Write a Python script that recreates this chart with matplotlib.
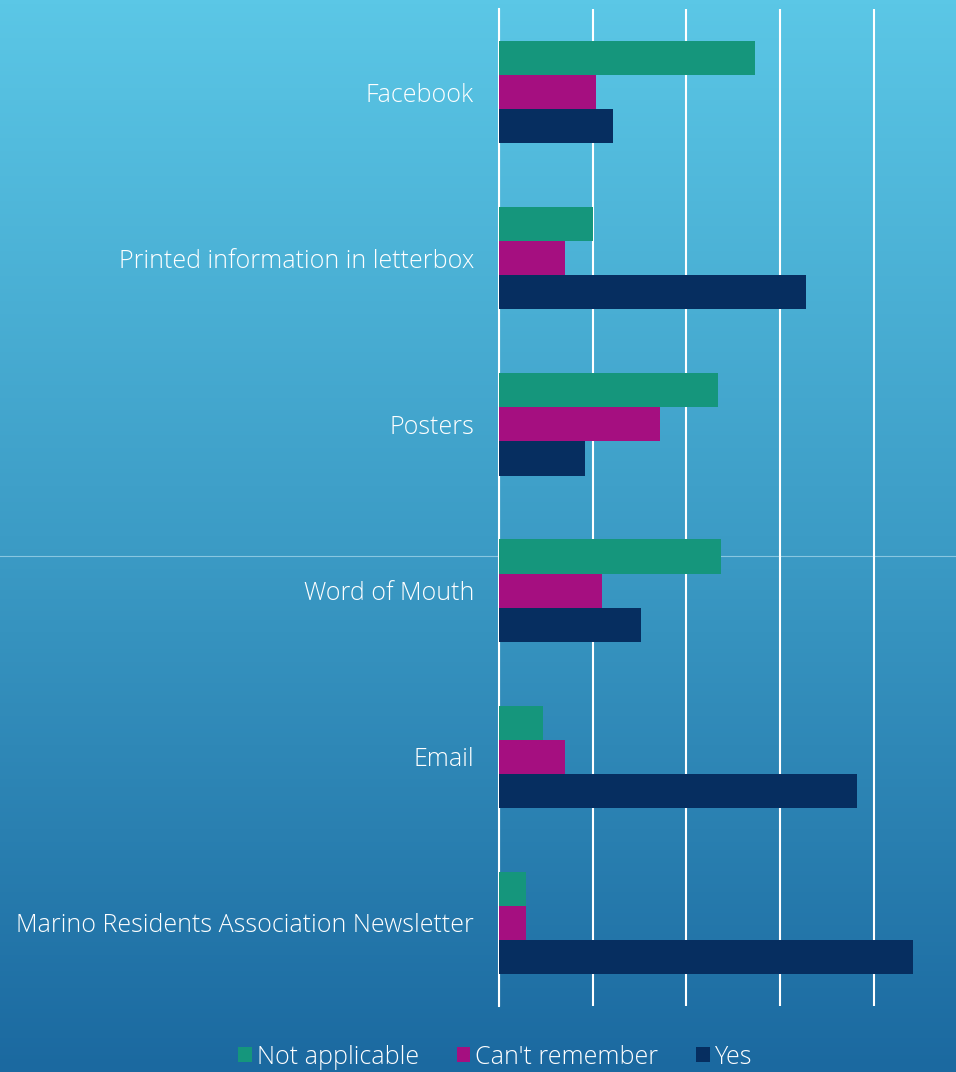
import numpy as np
import matplotlib
matplotlib.use("Agg")
import matplotlib.pyplot as plt
from matplotlib.colors import LinearSegmentedColormap
from matplotlib.lines import Line2D

# Data (one gridline step = 10)
categories = ["Facebook", "Printed information in letterbox", "Posters",
              "Word of Mouth", "Email", "Marino Residents Association Newsletter"]
not_applicable = [27.3, 10.0, 23.4, 23.7, 4.7, 2.9]
cant_remember = [10.4, 7.0, 17.2, 11.0, 7.0, 2.9]
yes = [12.2, 32.8, 9.2, 15.2, 38.2, 44.2]
series_names = ["Not applicable", "Can't remember", "Yes"]
colors = ["#15967C", "#A50F80", "#062E60"]

plt.rcParams['font.family'] = ['Open Sans', 'DejaVu Sans']

fig = plt.figure(figsize=(9.56, 10.72), dpi=100)

# Gradient background
bg = fig.add_axes([0, 0, 1, 1], zorder=-10)
cmap = LinearSegmentedColormap.from_list("bg", ["#5BC7E6", "#3C9CC6", "#1B69A0"])
grad = np.linspace(0, 1, 256).reshape(-1, 1)
bg.imshow(grad, aspect="auto", cmap=cmap, extent=[0, 1, 1, 0])
bg.set_xlim(0, 1)
bg.set_ylim(1, 0)
bg.axis("off")

# Thin line across the slide
fig.add_artist(Line2D([0, 1], [1 - 556 / 1072] * 2, color="#9ED2E8",
                      lw=0.8, alpha=0.8, zorder=-5))

ax = fig.add_axes([499 / 956, 1 - 1006 / 1072, 1 - 499 / 956, 997 / 1072])
ax.patch.set_alpha(0)

y = np.arange(len(categories))
h = 0.205
ax.barh(y - h, not_applicable, height=h, color=colors[0], label=series_names[0], zorder=3)
ax.barh(y, cant_remember, height=h, color=colors[1], label=series_names[1], zorder=3)
ax.barh(y + h, yes, height=h, color=colors[2], label=series_names[2], zorder=3)

ax.set_ylim(len(categories) - 0.5, -0.5)
ax.set_xlim(0, 48.75)
ax.set_xticks([0, 10, 20, 30, 40])
ax.xaxis.grid(True, color="white", lw=1.5, zorder=0)
ax.tick_params(axis="x", length=0, labelbottom=False)
ax.set_yticks(y)
ax.set_yticklabels(categories, color="white", fontsize=18, fontweight="light")
ax.tick_params(axis="y", length=0, pad=18)
for s in ["top", "right", "bottom"]:
    ax.spines[s].set_visible(False)
ax.spines["left"].set_color("white")
ax.spines["left"].set_linewidth(1.5)

leg = fig.legend(loc="center", bbox_to_anchor=(0.518, 1 - 1057 / 1072), ncol=3,
                 frameon=False, prop={"size": 18, "weight": "light"},
                 handlelength=0.55, handleheight=0.55,
                 handletextpad=0.2, columnspacing=1.5, labelcolor="white")

fig.savefig("out.png", dpi=100)
